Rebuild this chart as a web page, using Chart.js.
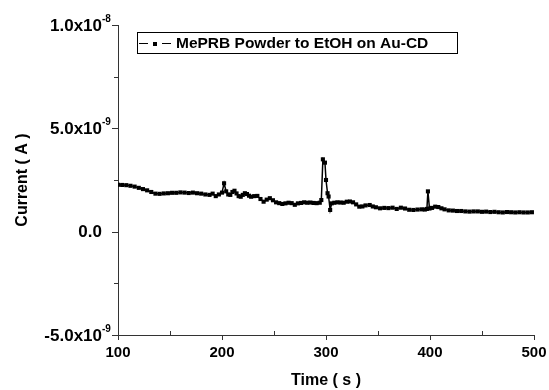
<!DOCTYPE html>
<html>
<head>
<meta charset="utf-8">
<script src="https://cdn.jsdelivr.net/npm/chart.js@4.4.1/dist/chart.umd.min.js"></script>
<style>
  html, body { margin: 0; padding: 0; background: #fff; }
  #wrap { width: 549px; height: 390px; }
</style>
</head>
<body>
<div id="wrap"><canvas id="cv"></canvas></div>
<script>
// time in s, current in units of 1e-9 A
const times = [
  100, 104, 108, 112, 116, 120, 124, 128, 132, 136, 140, 144, 148, 152, 156, 160,
  164, 168, 172, 176, 180, 184, 188, 191, 194, 197, 200, 202, 204, 206, 208, 210,
  212, 214, 216, 218, 220, 222, 224, 226, 228, 231, 234, 237, 240, 243, 246, 249,
  252, 255, 258, 261, 264, 267, 270, 273, 276, 279, 282, 285, 288, 291, 294, 295.5,
  297, 299, 300, 301.5, 302.5, 304, 305.5, 308, 311, 314, 317, 320, 323, 326, 329, 332,
  335, 338, 342, 345, 348, 352, 356, 360, 364, 368, 372, 376, 380, 384, 388, 392,
  395, 397, 398, 399.5, 402, 405, 408, 411, 414, 418, 422, 426, 430, 434, 438, 442,
  446, 450, 454, 458, 462, 466, 470, 474, 478, 482, 486, 490, 494, 498
];
const currentNA = [
  2.27, 2.26, 2.25, 2.22, 2.18, 2.12, 2.06, 2.00, 1.92, 1.84, 1.83, 1.85, 1.86, 1.88, 1.88, 1.90,
  1.89, 1.87, 1.89, 1.86, 1.84, 1.80, 1.78, 1.84, 1.72, 1.80, 1.89, 2.34, 1.95, 1.80, 1.78, 1.92,
  1.98, 1.85, 1.72, 1.69, 1.78, 1.86, 1.82, 1.74, 1.69, 1.72, 1.73, 1.58, 1.45, 1.55, 1.62, 1.52,
  1.42, 1.38, 1.34, 1.37, 1.40, 1.38, 1.30, 1.37, 1.39, 1.42, 1.40, 1.41, 1.39, 1.38, 1.40, 1.53,
  3.50, 3.34, 2.50, 1.86, 1.70, 1.05, 1.37, 1.40, 1.42, 1.41, 1.40, 1.45, 1.46, 1.42, 1.32, 1.21,
  1.22, 1.27, 1.29, 1.22, 1.18, 1.13, 1.15, 1.14, 1.16, 1.10, 1.16, 1.12, 1.06, 1.05, 1.07, 1.08,
  1.07, 1.10, 1.95, 1.12, 1.15, 1.21, 1.19, 1.13, 1.08, 1.03, 1.02, 1.00, 1.00, 0.98, 0.97, 0.98,
  0.98, 0.96, 0.97, 0.95, 0.96, 0.94, 0.93, 0.95, 0.94, 0.93, 0.94, 0.93, 0.93, 0.94
];
const seriesName = "MePRB Powder to EtOH on Au-CD";
const xMajor = [100, 200, 300, 400, 500];
const yMajor = [-5, 0, 5, 10];
const yLabels = { "10": ["1.0x10", "-8"], "5": ["5.0x10", "-9"], "0": ["0.0", ""], "-5": ["-5.0x10", "-9"] };

const FONT = "'Liberation Sans', Arial, sans-serif";

// axis ticks, y labels with superscripts, legend
const decor = {
  id: "decor",
  afterDraw(c) {
    const ctx = c.ctx, xs = c.scales.x, ys = c.scales.y;
    const L = c.chartArea.left, B = c.chartArea.bottom;
    ctx.save();
    ctx.strokeStyle = "#333";
    ctx.lineWidth = 1;
    ctx.beginPath();
    ys.ticks.forEach(t => {
      const y = Math.round(ys.getPixelForValue(t.value)) + 0.5;
      const len = yMajor.includes(t.value) ? 6 : 4;
      ctx.moveTo(L - len, y); ctx.lineTo(L, y);
    });
    xs.ticks.forEach(t => {
      const x = Math.round(xs.getPixelForValue(t.value)) + 0.5;
      if (xMajor.includes(t.value)) { ctx.moveTo(x, B); ctx.lineTo(x, B + 5); }
      else { ctx.moveTo(x, B); ctx.lineTo(x, B - 4); }
    });
    ctx.stroke();

    // y tick labels
    ctx.fillStyle = "#000";
    yMajor.forEach(v => {
      const y = ys.getPixelForValue(v);
      const [main, sup] = yLabels[String(v)];
      ctx.font = "bold 17px " + FONT;
      ctx.textAlign = "right";
      ctx.textBaseline = "middle";
      ctx.fillText(main, L - 16, y + 1);
      if (sup) {
        ctx.font = "bold 10px " + FONT;
        ctx.textAlign = "left";
        ctx.textBaseline = "alphabetic";
        ctx.fillText(sup, L - 16, y - 3);
      }
    });

    // legend
    ctx.strokeStyle = "#000";
    ctx.strokeRect(137.5, 32.5, 320, 21);
    ctx.beginPath();
    ctx.moveTo(139, 43.5); ctx.lineTo(148, 43.5);
    ctx.moveTo(162, 43.5); ctx.lineTo(171, 43.5);
    ctx.stroke();
    ctx.fillRect(153, 42, 4, 4);
    ctx.font = "bold 15.5px " + FONT;
    ctx.textAlign = "left";
    ctx.textBaseline = "middle";
    ctx.fillText(seriesName, 176, 43.5);
    ctx.restore();
  }
};

new Chart(document.getElementById("cv"), {
  type: "line",
  data: {
    datasets: [{
      label: seriesName,
      data: times.map((t, i) => ({ x: t, y: currentNA[i] })),
      borderColor: "#000",
      backgroundColor: "#000",
      borderWidth: 1.5,
      pointStyle: "rect",
      pointRadius: 2.9,
      pointBorderWidth: 0,
      tension: 0
    }]
  },
  options: {
    responsive: true,
    maintainAspectRatio: false,
    animation: false,
    layout: { padding: { top: 25, right: 15, left: 0, bottom: 0 } },
    plugins: { legend: { display: false }, tooltip: { enabled: false } },
    scales: {
      x: {
        type: "linear",
        min: 100, max: 500,
        grid: { display: false, drawTicks: false },
        border: { display: true, color: "#333", width: 1 },
        ticks: {
          stepSize: 50,
          padding: 9,
          color: "#000",
          maxRotation: 0,
          autoSkip: false,
          font: { family: FONT, size: 15, weight: "bold" },
          callback: v => (v % 100 === 0 ? v : "")
        },
        title: {
          display: true, text: "Time ( s )", color: "#000",
          font: { family: FONT, size: 16, weight: "bold" },
          padding: { top: 0, bottom: 0 }
        },
        afterFit: s => { s.height = 55; s.paddingLeft = 0; s.paddingRight = 0; }
      },
      y: {
        min: -5, max: 10,
        grid: { display: false, drawTicks: false },
        border: { display: true, color: "#333", width: 1 },
        ticks: { stepSize: 2.5, display: false },
        title: {
          display: true, text: "Current ( A )", color: "#000",
          font: { family: FONT, size: 16, weight: "bold" },
          padding: { top: 13, bottom: 0 }
        },
        afterFit: s => { s.width = 118; }
      }
    }
  },
  plugins: [decor]
});
</script>
</body>
</html>
